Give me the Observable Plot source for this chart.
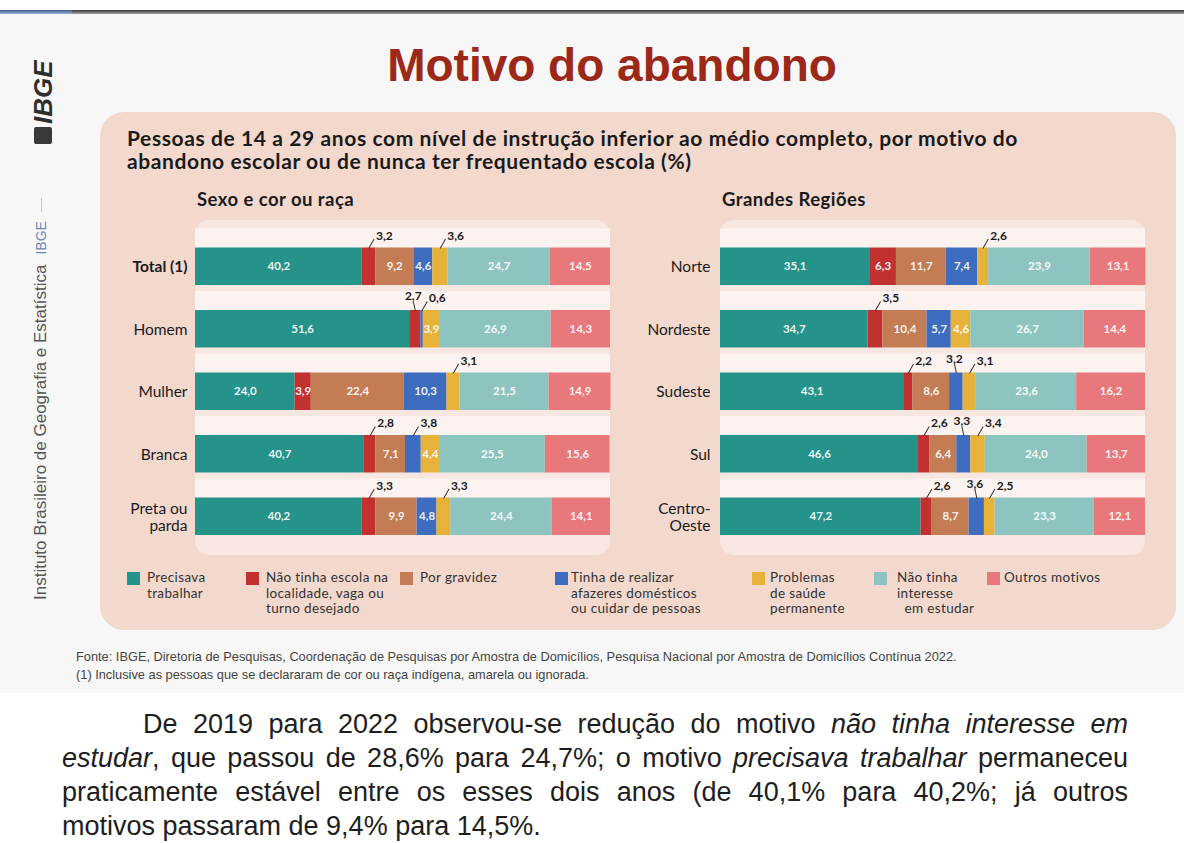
<!DOCTYPE html>
<html><head><meta charset="utf-8">
<script src="https://cdn.jsdelivr.net/npm/d3@7"></script>
<script src="https://cdn.jsdelivr.net/npm/@observablehq/plot@0.6"></script>
<style>
html,body{margin:0;padding:0;}
body{width:1184px;height:843px;overflow:hidden;background:#fff;position:relative;font-family:Lato,"Noto Sans",sans-serif;}
.abs{position:absolute;}
#slide{left:0;top:13px;width:1184px;height:680px;background:#f7f7f7;}
#topline{left:0;top:10px;width:1184px;height:4px;background:linear-gradient(#3a3a3a,#a0a0a0);}
#topblue{left:0;top:10px;width:72px;height:4px;background:linear-gradient(#3f5f92,#9bb0cf);}
#title{left:312px;width:600px;top:42px;text-align:center;font:bold 46px/46px "Liberation Sans",Arial,sans-serif;color:#9b2818;white-space:nowrap;}
#box{left:100px;top:112px;width:1076px;height:518px;border-radius:24px;background:#f2d8cd;}
#boxtitle{left:127px;top:126px;font-weight:700;font-size:21px;letter-spacing:0.6px;line-height:23px;color:#1b1b1b;white-space:nowrap;}
.sub{top:188px;font-weight:700;font-size:18.5px;letter-spacing:0.45px;line-height:22px;color:#1b1b1b;white-space:nowrap;}
.panelbg{top:220px;height:335px;border-radius:14px;background:#f8e6e0;}
.chart{top:210px;}
.lg-sq{width:13px;height:13px;top:572px;}
.lg-tx{top:570px;font-size:13.5px;letter-spacing:0.35px;line-height:15.5px;color:#333;white-space:pre;}
#foot{left:76px;top:648px;font:12.8px/18px "Liberation Sans",Arial,sans-serif;color:#444;white-space:nowrap;}
#body{left:62px;top:707px;width:1066px;font:27px/34px "Liberation Sans",Arial,sans-serif;color:#1e1e1e;}
#body div{text-align:justify;text-align-last:justify;white-space:nowrap;}
#body div.last{text-align-last:left;}
.side{writing-mode:vertical-rl;transform:rotate(180deg);white-space:nowrap;}
</style></head>
<body>
<div id="slide" class="abs"></div>
<div id="topline" class="abs"></div>
<div id="topblue" class="abs"></div>
<div class="abs side" style="left:28px;top:58px;height:86px;font:italic bold 26px 'Liberation Sans',Arial,sans-serif;color:#2e2e2e;text-align:left;">
  <span style="display:inline-block;width:18px;height:17px;background:#3a3a3a;border-radius:2px;margin-bottom:3px;"></span>IBGE</div>
<div class="abs" style="left:41px;top:198px;width:1px;height:14px;background:#c8c8c8;"></div>
<div class="abs side" style="left:31px;top:212px;height:388px;font:17px 'Liberation Sans',sans-serif;color:#555;text-align:left;">Instituto Brasileiro de Geografia e Estatística<span style="display:inline-block;height:10px;"></span><span style="color:#6b87b8;font-size:14px;">IBGE</span></div>
<div id="title" class="abs">Motivo do abandono</div>
<div id="box" class="abs"></div>
<div id="boxtitle" class="abs">Pessoas de 14 a 29 anos com nível de instrução inferior ao médio completo, por motivo do<br>abandono escolar ou de nunca ter frequentado escola (%)</div>
<div class="abs sub" style="left:197px;">Sexo e cor ou raça</div>
<div class="abs sub" style="left:722px;">Grandes Regiões</div>
<div class="abs panelbg" style="left:195px;width:415px;"></div>
<div class="abs panelbg" style="left:720px;width:425px;"></div>
<div id="left" class="abs chart" style="left:110px;"></div>
<div id="right" class="abs chart" style="left:610px;"></div>
<div id="legend"></div>
<div id="foot" class="abs">Fonte: IBGE, Diretoria de Pesquisas, Coordenação de Pesquisas por Amostra de Domicílios, Pesquisa Nacional por Amostra de Domicílios Contínua 2022.<br>(1) Inclusive as pessoas que se declararam de cor ou raça indígena, amarela ou ignorada.</div>
<div id="body" class="abs">
<div style="padding-left:81px;">De 2019 para 2022 observou-se redução do motivo <i>não tinha interesse em</i></div>
<div><i>estudar</i>, que passou de 28,6% para 24,7%; o motivo <i>precisava trabalhar</i> permaneceu</div>
<div>praticamente estável entre os esses dois anos (de 40,1% para 40,2%; já outros</div>
<div class="last">motivos passaram de 9,4% para 14,5%.</div>
</div>
<script>
// ---- data ----
const motives = ["Precisava trabalhar", "Não tinha escola na localidade, vaga ou turno desejado", "Por gravidez", "Tinha de realizar afazeres domésticos ou cuidar de pessoas", "Problemas de saúde permanente", "Não tinha interesse em estudar", "Outros motivos"];
const legendText = ["Precisava\ntrabalhar", "Não tinha escola na\nlocalidade, vaga ou\nturno desejado", "Por gravidez", "Tinha de realizar\nafazeres domésticos\nou cuidar de pessoas", "Problemas\nde saúde\npermanente", "Não tinha\ninteresse\n\u00a0 em estudar", "Outros motivos"];
const colors = ["#26938a", "#c1312f", "#c47c54", "#3e6dbf", "#e6b23a", "#8ec4bf", "#e8787b"];

const leftRows = ["Total (1)", "Homem", "Mulher", "Branca", "Preta ou parda"];
const leftRowLabels = ["Total (1)", "Homem", "Mulher", "Branca", "Preta ou\nparda"];
const total = [40.2, 3.2, 9.2, 4.6, 3.6, 24.7, 14.5];
const homem = [51.6, 2.7, 0, 0.6, 3.9, 26.9, 14.3];
const mulher = [24.0, 3.9, 22.4, 10.3, 3.1, 21.5, 14.9];
const branca = [40.7, 2.8, 7.1, 3.8, 4.4, 25.5, 15.6];
const pretaParda = [40.2, 3.3, 9.9, 4.8, 3.3, 24.4, 14.1];

const rightRows = ["Norte", "Nordeste", "Sudeste", "Sul", "Centro-Oeste"];
const rightRowLabels = ["Norte", "Nordeste", "Sudeste", "Sul", "Centro-\nOeste"];
const norte = [35.1, 6.3, 11.7, 7.4, 2.6, 23.9, 13.1];
const nordeste = [34.7, 3.5, 10.4, 5.7, 4.6, 26.7, 14.4];
const sudeste = [43.1, 2.2, 8.6, 3.2, 3.1, 23.6, 16.2];
const sul = [46.6, 2.6, 6.4, 3.3, 3.4, 24.0, 13.7];
const centroOeste = [47.2, 2.6, 8.7, 3.6, 2.5, 23.3, 12.1];

// ---- build ----
const fmt = v => v.toFixed(1).replace(".", ",");
function layoutRows(names, values) {
  const recs = [];
  names.forEach((name, i) => {
    let acc = 0;
    const row = values[i].map((v, j) => {
      const r = {row: name, motive: motives[j], value: v, x1: acc, x2: acc + v, mid: acc + v / 2, label: fmt(v), dir: null};
      acc += v;
      return r;
    });
    const outs = row.filter(r => r.value > 0 && r.value < 3.85);
    outs.forEach((r, k) => { const nx = outs[k + 1]; r.dir = (nx && nx.mid - r.mid < 5) ? "left" : "right"; });
    recs.push(...row);
  });
  return recs;
}
const leader = {draw(context, l) { context.moveTo(0, 0); context.lineTo(0, -l); }};

function panel(names, labels, values, width, marginLeft, labelDx) {
  const recs = layoutRows(names, values);
  const rows = names.map((n, i) => ({row: n, label: labels[i], first: i === 0}));
  const half = 18.75;
  const isTotal = d => d.first && names[0] === "Total (1)";
  return Plot.plot({
    width, height: 350, marginLeft, marginRight: 5, marginTop: 25, marginBottom: 12.5,
    style: {fontFamily: "Lato, 'Noto Sans', sans-serif", background: "transparent", overflow: "visible"},
    x: {domain: [0, 100], axis: null},
    y: {type: "band", domain: names, axis: null, paddingInner: 0.4, paddingOuter: 0.2, round: false},
    color: {domain: motives, range: colors},
    marks: [
      Plot.barX(rows, {x1: 0, x2: 100, y: "row", fill: "#fcf2ef", insetTop: -19}),
      Plot.barX(recs.filter(d => d.value > 0), {x1: "x1", x2: "x2", y: "row", fill: "motive"}),
      Plot.text(recs.filter(d => d.value >= 3.85), {x: "mid", y: "row", text: "label", fill: "#ffffff", fillOpacity: 0.93, fontWeight: "bold", fontSize: 11.5}),
      Plot.vector(recs.filter(d => d.dir === "right"), {x: "mid", y: "row", length: 10, rotate: 30, anchor: "start", dy: -half, stroke: "#333", strokeWidth: 1, shape: leader}),
      Plot.vector(recs.filter(d => d.dir === "left"), {x: "mid", y: "row", length: 9, rotate: -12, anchor: "start", dy: -half, stroke: "#333", strokeWidth: 1, shape: leader}),
      Plot.text(recs.filter(d => d.dir === "right"), {x: "mid", y: "row", text: "label", textAnchor: "start", dx: 7, dy: -half - 12, fill: "#1b1b1b", fontWeight: "bold", fontSize: 12}),
      Plot.text(recs.filter(d => d.dir === "left"), {x: "mid", y: "row", text: "label", textAnchor: "middle", dx: -2, dy: -half - 14, fill: "#1b1b1b", fontWeight: "bold", fontSize: 12}),
      Plot.text(rows.filter(isTotal), {y: "row", text: "label", frameAnchor: "left", textAnchor: "end", dx: labelDx, fontSize: 15.5, fontWeight: "bold", fill: "#1b1b1b"}),
      Plot.text(rows.filter(d => !isTotal(d)), {y: "row", text: "label", frameAnchor: "left", textAnchor: "end", dx: labelDx, fontSize: 15.5, lineHeight: 1.1, fill: "#1b1b1b"})
    ]
  });
}

document.getElementById("left").append(panel(leftRows, leftRowLabels, [total, homem, mulher, branca, pretaParda], 505, 85, -8));
document.getElementById("right").append(panel(rightRows, rightRowLabels, [norte, nordeste, sudeste, sul, centroOeste], 540, 110, -10));

// legend
const sqX = [127, 246, 400, 555, 752, 874, 987];
const txX = [147, 266, 420, 571, 770, 897, 1004];
const lg = document.getElementById("legend");
motives.forEach((m, i) => {
  const sq = document.createElement("div");
  sq.className = "abs lg-sq"; sq.style.left = sqX[i] + "px"; sq.style.background = colors[i];
  const tx = document.createElement("div");
  tx.className = "abs lg-tx"; tx.style.left = txX[i] + "px"; tx.textContent = legendText[i];
  lg.append(sq, tx);
});
</script>
</body></html>
